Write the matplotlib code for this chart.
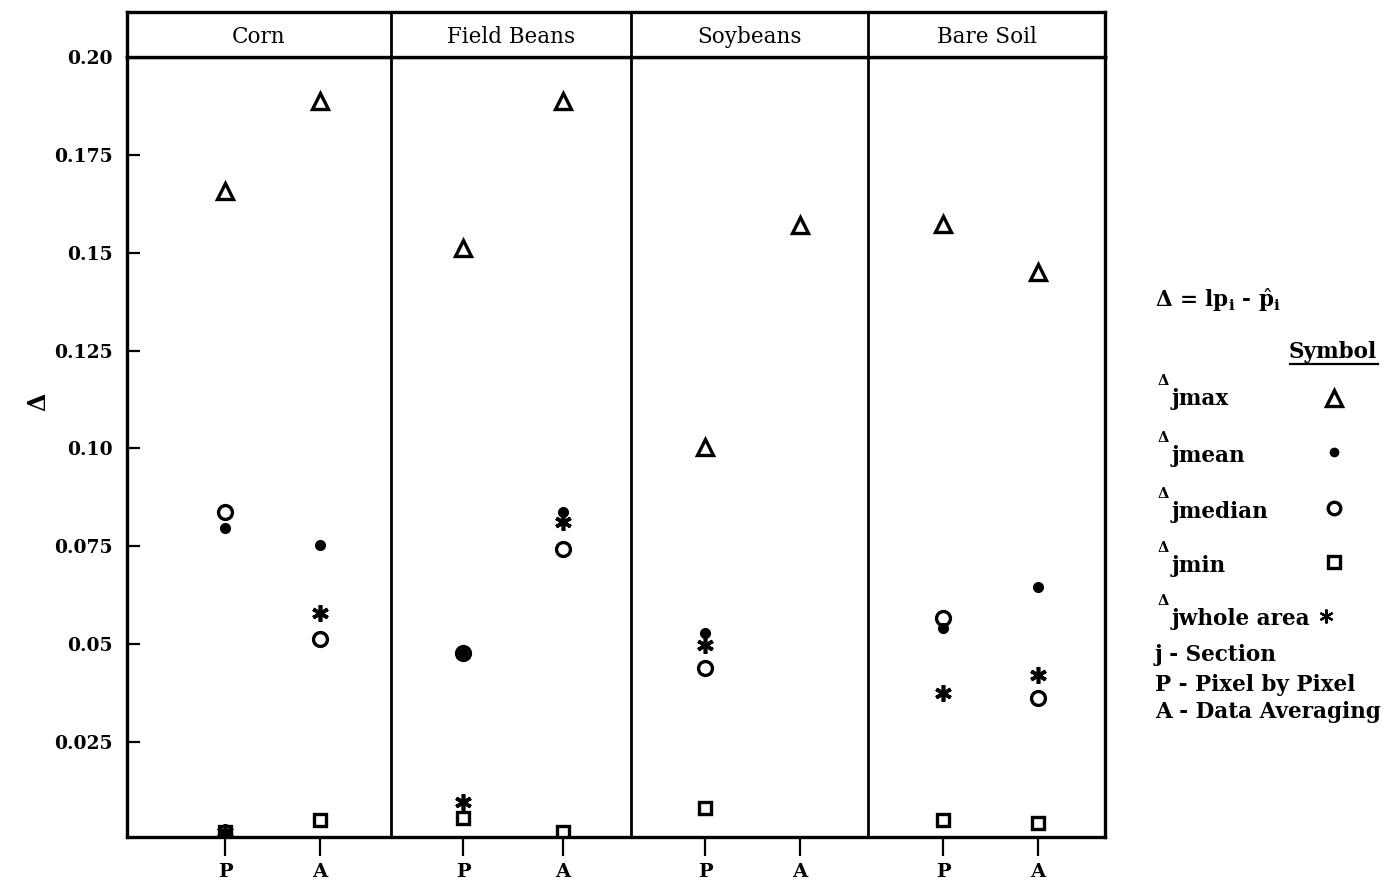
import numpy as np
import matplotlib
matplotlib.use("Agg")
import matplotlib.pyplot as plt

# ---- data -------------------------------------------------------------
crops = ["Corn", "Field Beans", "Soybeans", "Bare Soil"]
methods = ["P", "A"]  # P - pixel by pixel, A - data averaging

# values per (crop, method): Corn P, Corn A, Beans P, Beans A, Soy P, Soy A, Soil P, Soil A
d_max    = [0.1658, 0.1888, 0.1513, 0.1888, 0.1004, 0.1571, 0.1574, 0.1451]
d_mean   = [0.0797, 0.0754, 0.0478, 0.0838, 0.0529, np.nan, 0.0542, 0.0646]
d_median = [0.0838, 0.0514, 0.0478, 0.0743, 0.0439, np.nan, 0.0567, 0.0363]
d_min    = [0.0020, 0.0051, 0.0056, 0.0020, 0.0082, np.nan, 0.0051, 0.0043]
d_whole  = [0.0020, 0.0580, 0.0097, 0.0812, 0.0498, np.nan, 0.0376, 0.0422]

yticks = [0.025, 0.05, 0.075, 0.10, 0.125, 0.15, 0.175, 0.20]
ytick_labels = ["0.025", "0.05", "0.075", "0.10", "0.125", "0.15", "0.175", "0.20"]

# ---- layout -----------------------------------------------------------
W, H = 1397, 888
plt.rcParams["font.family"] = ["DejaVu Serif"]
plt.rcParams["mathtext.fontset"] = "dejavuserif"
fig = plt.figure(figsize=(W / 100, H / 100), dpi=100)

x_left, x_right = 127, 1105
y_top, y_bot, y_head = 57, 837, 12
panel_edges = [0, 264, 504, 741, 978]           # panel borders along x
method_pos = [98, 193, 336, 436, 578, 673, 816, 911]

ax = fig.add_axes([x_left / W, 1 - y_bot / H, (x_right - x_left) / W, (y_bot - y_top) / H])
hax = fig.add_axes([x_left / W, 1 - y_top / H, (x_right - x_left) / W, (y_top - y_head) / H])

lw = 2.4
for a in (ax, hax):
    a.set_xlim(panel_edges[0], panel_edges[-1])
    for s in a.spines.values():
        s.set_linewidth(lw)
    for e in panel_edges[1:-1]:
        a.axvline(e, color="black", lw=2.0)

# header strip
hax.set_ylim(0, 1)
hax.set_xticks([])
hax.set_yticks([])
for i, name in enumerate(crops):
    cx = 0.5 * (panel_edges[i] + panel_edges[i + 1])
    hax.text(cx, 0.45, name, ha="center", va="center", fontsize=15.5)

# main panel
ax.set_ylim(0.0007, 0.20)
ax.set_yticks(yticks)
ax.set_yticklabels(ytick_labels, fontsize=13.5, fontweight="bold")
ax.tick_params(axis="y", direction="in", length=9, width=1.6, pad=10)
ax.set_xticks(method_pos)
ax.set_xticklabels(methods * len(crops), fontsize=14, fontweight="bold")
ax.tick_params(axis="x", direction="out", length=14, width=1.6, pad=5)

asterisk = (6, 2, 0)
common = dict(linestyle="none", color="black", clip_on=True)
ax.plot(method_pos, d_max, marker="^", ms=12, mfc="none", mec="black", mew=2.4, **common)
ax.plot(method_pos, d_median, marker="o", ms=10, mfc="none", mec="black", mew=2.4, **common)
ax.plot(method_pos, d_mean, marker="o", ms=7, mfc="black", mec="black", **common)
ax.plot(method_pos, d_min, marker="s", ms=9, mfc="none", mec="black", mew=2.4, **common)
ax.plot(method_pos, d_whole, marker=asterisk, ms=12, mec="black", mew=2.6, **common)

# ---- overlay in pixel units for the axis symbol and the key ----------
kax = fig.add_axes([0, 0, 1, 1], zorder=-1)
kax.set_xlim(0, W)
kax.set_ylim(H, 0)
kax.axis("off")

kax.text(38, 402, "Δ", fontsize=17, fontweight="bold", rotation=90, ha="center", va="center")

fs = 15.5
kax.text(1155, 300, r"Δ = lp$_{\mathbf{i}}$ - $\hat{\mathbf{p}}_{\mathbf{i}}$", fontsize=fs,
         ha="left", va="center", fontweight="bold")
kax.text(1377, 352, "Symbol", fontsize=fs, ha="right", va="center", fontweight="bold")
kax.plot([1290, 1378], [364, 364], color="black", lw=1.6)

rows = [("jmax", 395), ("jmean", 452), ("jmedian", 508), ("jmin", 562), ("jwhole area", 615)]
for label, yy in rows:
    kax.text(1158, yy - 14, "Δ", fontsize=10.5, ha="left", va="center", fontweight="bold")
    kax.text(1172, yy + 4, label, fontsize=fs, ha="left", va="center", fontweight="bold")

kx = 1334
kax.plot([kx], [398], marker="^", ms=11, mfc="none", mec="black", mew=2.4, **common)
kax.plot([kx], [452], marker="o", ms=6, mfc="black", mec="black", **common)
kax.plot([kx], [508], marker="o", ms=9, mfc="none", mec="black", mew=2.4, **common)
kax.plot([kx], [562], marker="s", ms=8, mfc="none", mec="black", mew=2.4, **common)
kax.plot([1326], [616], marker=asterisk, ms=10, mec="black", mew=1.6, **common)

for txt, yy in [("j - Section", 655), ("P - Pixel by Pixel", 685), ("A - Data Averaging", 712)]:
    kax.text(1155, yy, txt, fontsize=fs, ha="left", va="center", fontweight="bold")

fig.savefig("out.png", dpi=100)
